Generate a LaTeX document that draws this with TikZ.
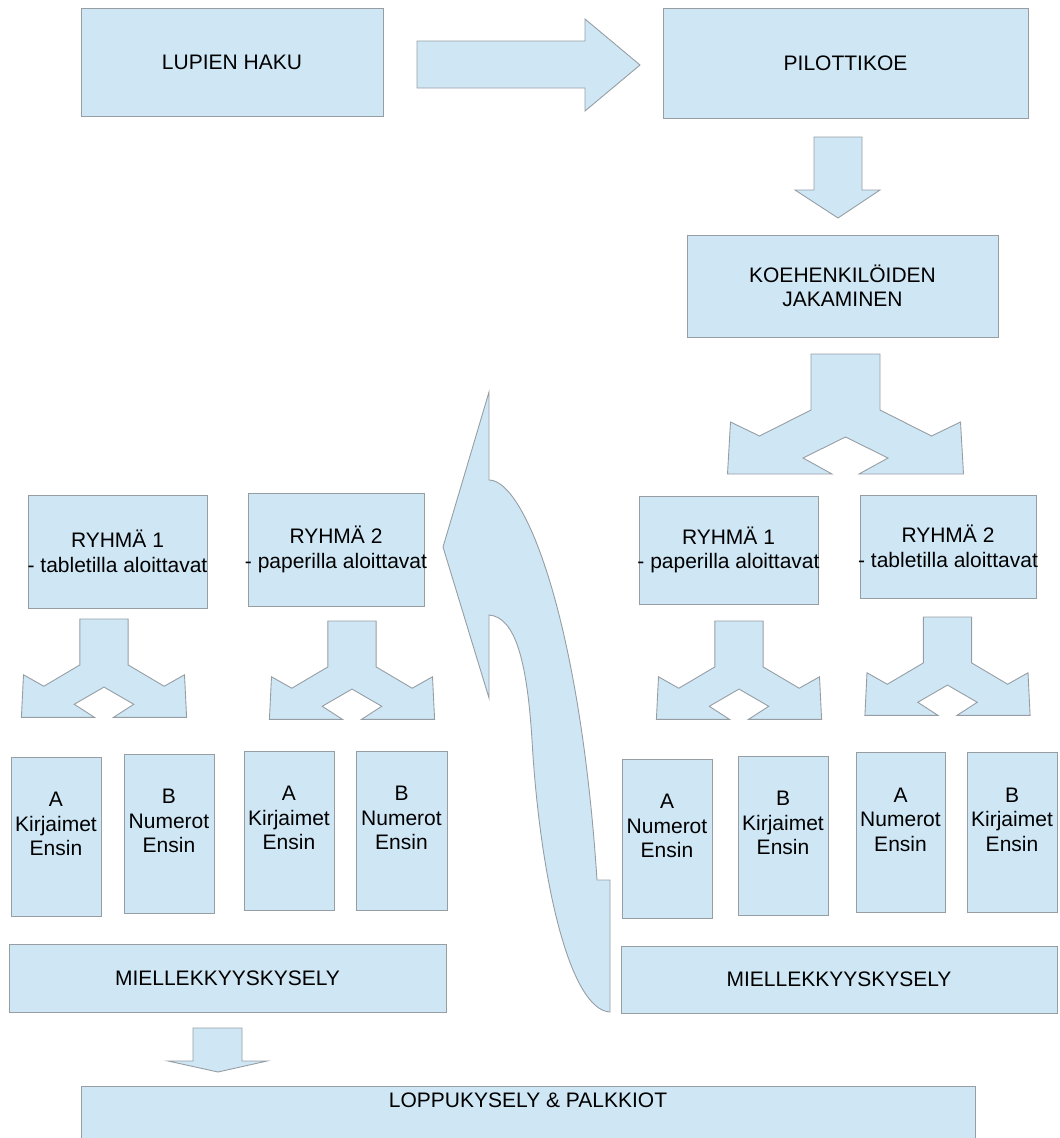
\documentclass[tikz,border=0pt]{standalone}
\usepackage{fontspec}
\setmainfont{Liberation Sans}
\definecolor{boxfill}{RGB}{207,231,245}
\definecolor{boxline}{RGB}{150,158,164}
\begin{document}
\begin{tikzpicture}
[x=1pt,y=-1pt,
  boxdecorate/.style={shape=rectangle,draw=boxline,fill=boxfill,line width=0.9pt,inner sep=0pt,align=center,font=\fontsize{21}{24.5}\selectfont},%
  textdecorate/.style={inner sep=0pt,align=center,font=\fontsize{21}{24.5}\selectfont},%
  arrowdecorate/.style={draw=boxline,fill=boxfill,line width=0.9pt,line join=miter},%
  splitsmall/.style={xscale=0.7,yscale=0.82},%
  splitarrow/.pic={\path[arrowdecorate] (-34.5,0) -- (34.5,0) -- (34.5,56) -- (86,82) -- (115,68) -- (118,120)
    -- (13.5,120) -- (42.5,104) -- (0,83) -- (-42.5,104) -- (-13.5,120) -- (-118,120) -- (-115,68) -- (-86,82)
    -- (-34.5,56) -- cycle;}]
\useasboundingbox (0,0) rectangle (1060,1138);
\clip (0,0) rectangle (1060,1138);
% block arrows
\path[arrowdecorate] (417,41) -- (585,41) -- (585,19) -- (640,65) -- (585,111) -- (585,88) -- (417,88) -- cycle;
\path[arrowdecorate] (814,137) -- (862,137) -- (862,190) -- (880,190) -- (838,218) -- (795,190) -- (814,190) -- cycle;
\path[arrowdecorate] (193,1028) -- (242,1028) -- (242,1061) -- (267,1061) -- (218,1072) -- (168,1061) -- (193,1061) -- cycle;
\pic at (845.5,354) {splitarrow};
\pic[splitsmall] at (104,619) {splitarrow};
\pic[splitsmall] at (352,621) {splitarrow};
\pic[splitsmall] at (739,621) {splitarrow};
\pic[splitsmall] at (947.5,617) {splitarrow};
% curved arrow back to the left side
\path[arrowdecorate] (489,392) -- (489,480) .. controls (525,480) and (580,620) .. (597,880) -- (610,880)
  -- (610,1012) .. controls (570,1010) and (540,880) .. (532,740) .. controls (527,660) and (515,617) .. (489,615)
  -- (489,698) -- (443,547) -- cycle;
% boxes
\node (haku) at (232,62) [boxdecorate,minimum width=302,minimum height=108] {LUPIEN HAKU};
\node (pilotti) at (845.5,63) [boxdecorate,minimum width=365,minimum height=110] {PILOTTIKOE};
\node (jako) at (842.5,286) [boxdecorate,minimum width=311,minimum height=102] {KOEHENKILÖIDEN\\JAKAMINEN};
% left side
\node (lryhma1) at (117.5,551.5) [boxdecorate,minimum width=179,minimum height=113,
  label={[textdecorate]center:{RYHMÄ 1\\- tabletilla aloittavat}}] {};
\node (lryhma2) at (336,549.5) [boxdecorate,minimum width=176,minimum height=113,
  label={[textdecorate]center:{RYHMÄ 2\\- paperilla aloittavat}}] {};
\node (la1) at (56,836.5) [boxdecorate,minimum width=90,minimum height=159,
  label={[textdecorate,yshift=12.5]center:{A\\Kirjaimet\\Ensin}}] {};
\node (lb1) at (169,833.5) [boxdecorate,minimum width=90,minimum height=159,
  label={[textdecorate,yshift=12.5]center:{B\\Numerot\\Ensin}}] {};
\node (la2) at (289,830.5) [boxdecorate,minimum width=90,minimum height=159,
  label={[textdecorate,yshift=12.5]center:{A\\Kirjaimet\\Ensin}}] {};
\node (lb2) at (401.5,830.5) [boxdecorate,minimum width=91,minimum height=159,
  label={[textdecorate,yshift=12.5]center:{B\\Numerot\\Ensin}}] {};
\node (lkysely) at (227.5,978) [boxdecorate,minimum width=437,minimum height=68] {MIELLEKKYYSKYSELY};
% right side
\node (rryhma1) at (728.5,550) [boxdecorate,minimum width=179,minimum height=108,
  label={[textdecorate]center:{RYHMÄ 1\\- paperilla aloittavat}}] {};
\node (rryhma2) at (948,546.5) [boxdecorate,minimum width=176,minimum height=103,
  label={[textdecorate]center:{RYHMÄ 2\\- tabletilla aloittavat}}] {};
\node (ra1) at (667,838.5) [boxdecorate,minimum width=90,minimum height=159,
  label={[textdecorate,yshift=12.5]center:{A\\Numerot\\Ensin}}] {};
\node (rb1) at (783,835.5) [boxdecorate,minimum width=90,minimum height=159,
  label={[textdecorate,yshift=12.5]center:{B\\Kirjaimet\\Ensin}}] {};
\node (ra2) at (900.5,832) [boxdecorate,minimum width=89,minimum height=160,
  label={[textdecorate,yshift=12.5]center:{A\\Numerot\\Ensin}}] {};
\node (rb2) at (1012,832) [boxdecorate,minimum width=90,minimum height=160,
  label={[textdecorate,yshift=12.5]center:{B\\Kirjaimet\\Ensin}}] {};
\node (rkysely) at (839,979.5) [boxdecorate,minimum width=436,minimum height=67] {MIELLEKKYYSKYSELY};
% end
\node (loppu) at (528,1118) [boxdecorate,minimum width=894,minimum height=64] {};
\node (lopputext) at (528,1100) [textdecorate] {LOPPUKYSELY \& PALKKIOT};
\end{tikzpicture}
\end{document}
